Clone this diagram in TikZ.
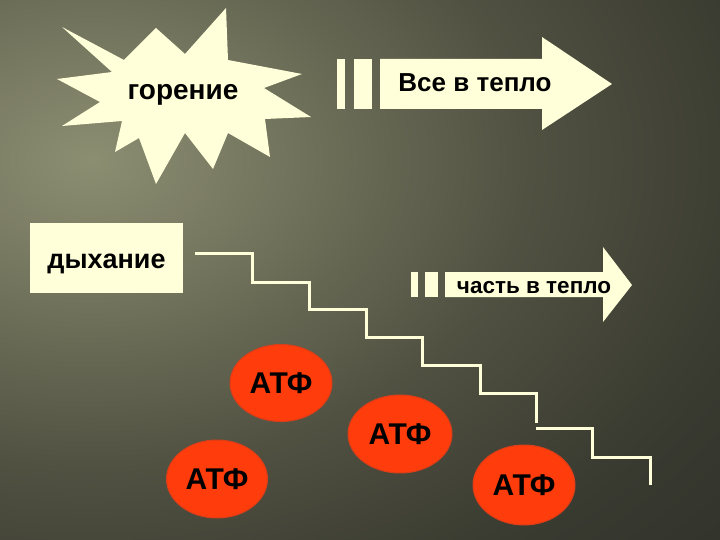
\documentclass[tikz,border=0pt]{standalone}
\usepackage{fontspec}
\setmainfont{Liberation Sans}
\usetikzlibrary{shapes.geometric}
\definecolor{cream}{RGB}{255,255,217}
\definecolor{atfred}{RGB}{255,60,12}
\definecolor{atfedge}{RGB}{215,62,25}
\definecolor{bgA}{RGB}{140,142,114}
\definecolor{bgB}{RGB}{114,115,92}
\definecolor{bgC}{RGB}{80,81,65}
\definecolor{bgD}{RGB}{56,57,47}
\definecolor{bgE}{RGB}{44,45,39}
\pgfdeclareradialshading{bgglow}{\pgfpoint{0bp}{0bp}}{color(0bp)=(bgA); color(5bp)=(bgB); color(11bp)=(bgC); color(17.5bp)=(bgD); color(25bp)=(bgE); color(50bp)=(bgE)}
\tikzset{
  lbl/.style={inner sep=0pt, font=\bfseries\fontsize{#1}{#1}\selectfont, text=black},
  stairline/.style={draw=cream, line width=3pt, line join=miter},
  shapefill/.style={fill=cream},
  atf/.style={ellipse, fill=atfred, draw=atfedge, line width=1pt, inner sep=0pt,
    font=\bfseries\fontsize{30}{30}\selectfont, text=black},
  boxnode/.style={rectangle, fill=cream, inner sep=0pt, minimum width=153pt, minimum height=70pt,
    text height=20pt, text depth=0pt,
    font=\bfseries\fontsize{27}{27}\selectfont, text=black}
}
\begin{document}
\begin{tikzpicture}[x=1pt,y=-1pt]
\useasboundingbox (0,0) rectangle (720,540);
% background
\begin{scope}
  \clip (0,0) rectangle (720,540);
  \fill[bgE] (0,0) rectangle (720,540);
  \shade[shading=bgglow] (90,160) ellipse (1000 and 700);
\end{scope}
% explosion
\fill[shapefill] (62,27) -- (124,60) -- (156,28) -- (185,54) -- (226,8) -- (228,60)
  -- (302,74) -- (264,88) -- (311,117) -- (265,119) -- (270,157) -- (228,133)
  -- (213,169) -- (185,133) -- (156,184) -- (139,138) -- (115,152) -- (122,121)
  -- (62,126) -- (100,102) -- (57,79) -- (112,72) -- cycle;
\node[lbl=28, anchor=base] (gor) at (183,100) {горение};
% arrow 1
\fill[shapefill] (337,59) rectangle (345,109);
\fill[shapefill] (354,59) rectangle (372,109);
\fill[shapefill] (380,59) -- (542,59) -- (542,37) -- (612,84) -- (542,130) -- (542,109) -- (380,109) -- cycle;
\node[lbl=26, anchor=base] (all) at (475,92) {Все в тепло};
% box
\node[boxnode] (dyh) at (106.5,258) {дыхание};
% arrow 2
\fill[shapefill] (411,272) rectangle (418,297);
\fill[shapefill] (425,272) rectangle (438,297);
\fill[shapefill] (445,272) -- (603,272) -- (603,247) -- (632,285) -- (603,322) -- (603,297) -- (445,297) -- cycle;
\node[lbl=22.5, anchor=base] (part) at (534,293) {часть в тепло};
% staircase
\coordinate (s0) at (195,253);
\coordinate (t0) at (536,428);
\draw[stairline] (s0) -- (252,253) -- (252,282) -- (309,282) -- (309,309) -- (366,309)
  -- (366,337) -- (422,337) -- (422,365) -- (480,365) -- (480,393) -- (536,393) -- (536,423);
\draw[stairline] (t0) -- (592,428) -- (592,457) -- (650,457) -- (650,485);
% ATP
\node[atf, minimum width=102pt, minimum height=77pt] (a1) at (281,383) {АТФ};
\node[atf, minimum width=104pt, minimum height=78pt] (a2) at (400,434) {АТФ};
\node[atf, minimum width=101pt, minimum height=78pt] (a3) at (217,479) {АТФ};
\node[atf, minimum width=102pt, minimum height=80pt] (a4) at (524,485) {АТФ};
\end{tikzpicture}
\end{document}
